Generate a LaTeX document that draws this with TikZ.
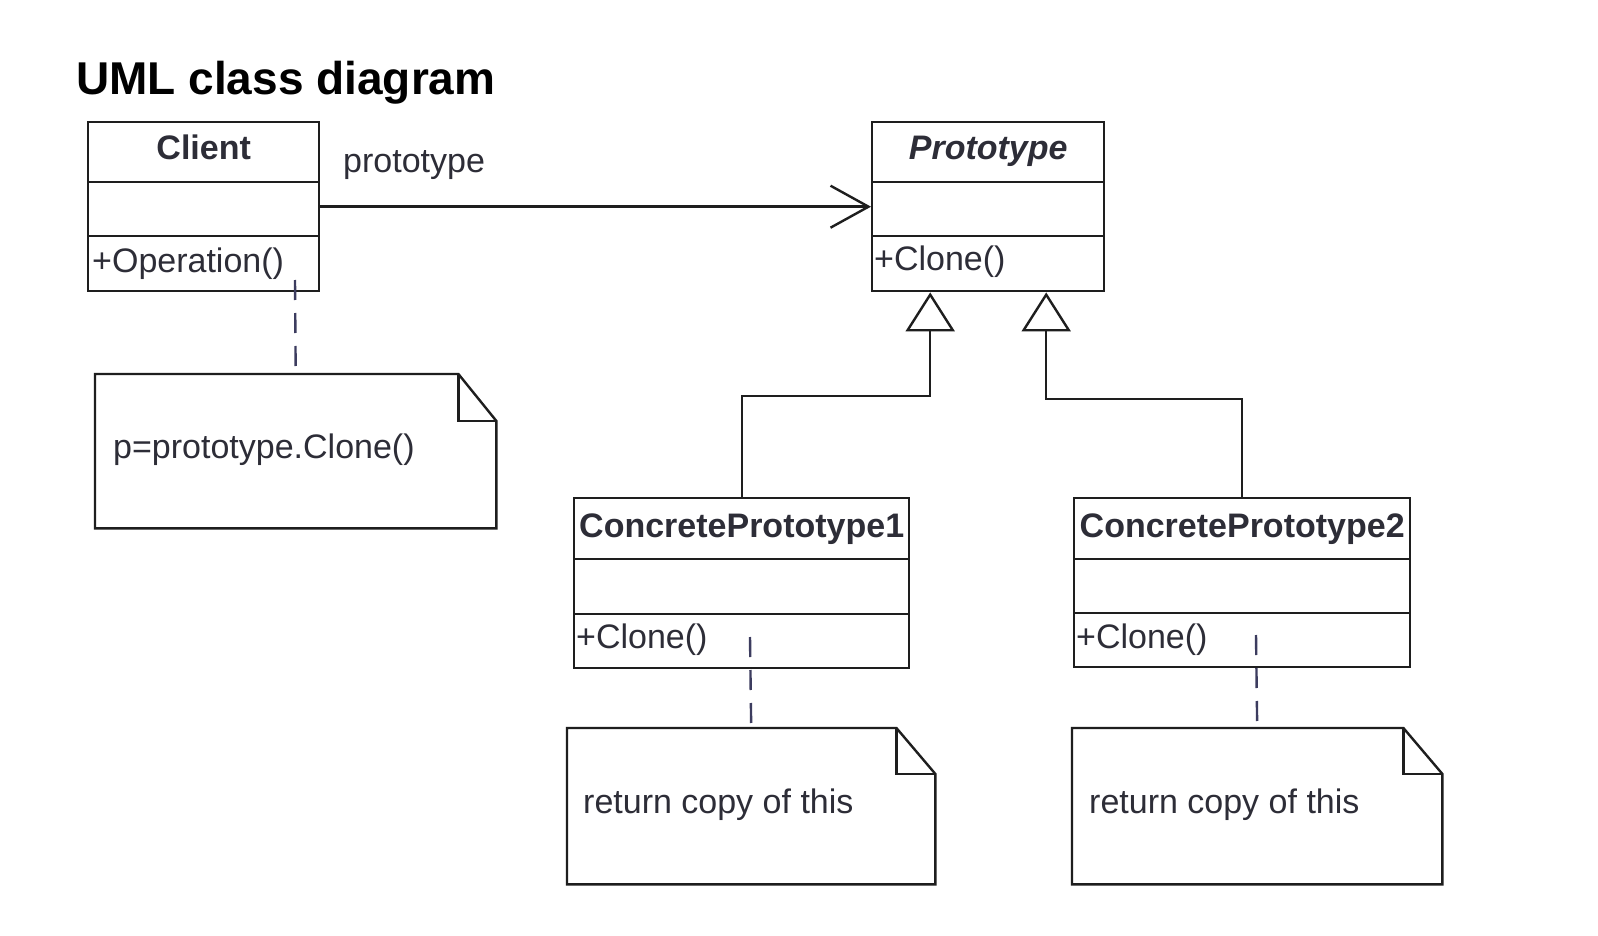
\documentclass[tikz,border=0pt]{standalone}
\usepackage{fontspec}
\setmainfont{Liberation Sans}
\usetikzlibrary{arrows.meta}
\definecolor{linec}{RGB}{30,30,30}
\definecolor{textc}{RGB}{45,45,55}
\definecolor{dashc}{RGB}{60,60,95}
\begin{document}
\begin{tikzpicture}[x=1pt,y=-1pt,line width=2.4pt,
  classbox/.style={draw=linec,fill=white,anchor=north west,inner sep=0pt,minimum width=#1},
  notebox/.style={anchor=north west,inner sep=0pt,minimum width=#1},
  nametext/.style={anchor=base,inner sep=0pt,text=textc,font=\fontsize{34}{40}\selectfont\bfseries},
  optext/.style={anchor=base west,inner sep=0pt,text=textc,font=\fontsize{34}{40}\selectfont},
  divider/.style={draw=linec},
  notedraw/.style={draw=linec},
  noteline/.style={draw=dashc,dash pattern=on 20pt off 13pt},
  assoc/.style={draw=linec,-{Straight Barb[length=38pt,width=42pt,line width=2.4pt]}},
  inherit/.style={draw=linec,-{Triangle[length=39pt,width=49pt,fill=white,line width=2.4pt]}}]
\useasboundingbox (0,0) rectangle (1598,936);
\fill[white] (0,0) rectangle (1598,936);

% title
\node[anchor=base west,inner sep=0pt,font=\fontsize{46}{52}\selectfont\bfseries] (title) at (75,95) {UML class diagram};

% classes
\node[classbox=231pt,minimum height=169pt] (client) at (87,121) {};
\draw[divider] (client.west |- 0,182) -- (client.east |- 0,182);
\draw[divider] (client.west |- 0,236) -- (client.east |- 0,236);
\node[nametext] (clientname) at (client.north |- 0,160) {Client};
\node[optext] (clientop) at (91,272) {+Operation()};

\node[classbox=232pt,minimum height=169pt] (proto) at (871,121) {};
\draw[divider] (proto.west |- 0,182) -- (proto.east |- 0,182);
\draw[divider] (proto.west |- 0,236) -- (proto.east |- 0,236);
\node[nametext,font=\fontsize{34}{40}\selectfont\bfseries\itshape] (protoname) at (proto.north |- 0,160) {Prototype};
\node[optext] (protoop) at (873,270) {+Clone()};

\node[classbox=335pt,minimum height=170pt] (cp1) at (573,497) {};
\draw[divider] (cp1.west |- 0,559) -- (cp1.east |- 0,559);
\draw[divider] (cp1.west |- 0,614) -- (cp1.east |- 0,614);
\node[nametext] (cp1name) at (cp1.north |- 0,537) {ConcretePrototype1};
\node[optext] (cp1op) at (575,648) {+Clone()};

\node[classbox=336pt,minimum height=169pt] (cp2) at (1073,497) {};
\draw[divider] (cp2.west |- 0,559) -- (cp2.east |- 0,559);
\draw[divider] (cp2.west |- 0,613) -- (cp2.east |- 0,613);
\node[nametext] (cp2name) at (cp2.north |- 0,537) {ConcretePrototype2};
\node[optext] (cp2op) at (1075,648) {+Clone()};

% association
\draw[assoc] (client) -- (proto);
\node[optext] (assoclabel) at (342,173) {prototype};

% generalisations
\draw[inherit] (cp1.north) -- ++(0,-101) -| ([xshift=-58pt]proto.south);
\draw[inherit] (cp2.north) -- ++(0,-98) -| ([xshift=58pt]proto.south);

% notes
\node[notebox=399pt,minimum height=152pt] (note1) at (95,374) {};
\draw[notedraw] (note1.south west) -- (note1.north west) -- ([xshift=-38pt]note1.north east) -- ([yshift=-47pt]note1.north east) -- (note1.south east) -- cycle;
\draw[notedraw] ([xshift=-38pt]note1.north east) -- ([xshift=-38pt,yshift=-47pt]note1.north east) -- ([yshift=-47pt]note1.north east);
\node[optext] (note1text) at (112,458) {p=prototype.Clone()};

\node[notebox=366pt,minimum height=154pt] (note2) at (567,728) {};
\draw[notedraw] (note2.south west) -- (note2.north west) -- ([xshift=-39pt]note2.north east) -- ([yshift=-46pt]note2.north east) -- (note2.south east) -- cycle;
\draw[notedraw] ([xshift=-39pt]note2.north east) -- ([xshift=-39pt,yshift=-46pt]note2.north east) -- ([yshift=-46pt]note2.north east);
\node[optext] (note2text) at (582,813) {return copy of this};

\node[notebox=368pt,minimum height=154pt] (note3) at (1072,728) {};
\draw[notedraw] (note3.south west) -- (note3.north west) -- ([xshift=-39pt]note3.north east) -- ([yshift=-46pt]note3.north east) -- (note3.south east) -- cycle;
\draw[notedraw] ([xshift=-39pt]note3.north east) -- ([xshift=-39pt,yshift=-46pt]note3.north east) -- ([yshift=-46pt]note3.north east);
\node[optext] (note3text) at (1088,813) {return copy of this};

% note anchors
\coordinate (a1) at (295,280);
\coordinate (a2) at (750,637);
\coordinate (a3) at (1256,635);
\draw[noteline] (a1) -- (note1.north);
\draw[noteline] (a2) -- (note2.north);
\draw[noteline] (a3) -- (note3.north);
\end{tikzpicture}
\end{document}
